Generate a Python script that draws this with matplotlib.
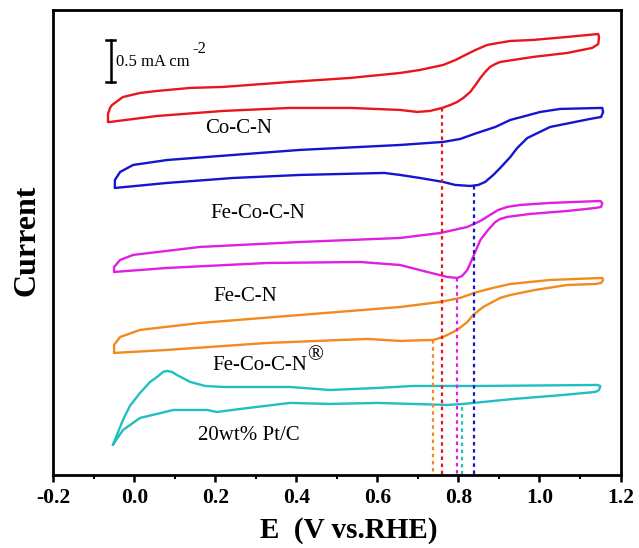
import matplotlib

matplotlib.use("Agg")
import matplotlib.pyplot as plt
from matplotlib.ticker import MultipleLocator, FormatStrFormatter

plt.rcParams["font.family"] = ["Liberation Serif", "DejaVu Serif"]
plt.rcParams["axes.unicode_minus"] = False

# CV loops, offset for stacking (E in V vs RHE, current in mA cm^-2)
e_co = [-0.065, -0.065, -0.060, -0.055, -0.048, -0.038, -0.028, 0.014, 0.056, 0.138, 0.219,
        0.384, 0.533, 0.656, 0.705, 0.762, 0.793, 0.817, 0.842, 0.871, 0.898, 0.928, 0.984,
        1.068, 1.145, 1.147, 1.145, 1.130,
        1.068, 0.984, 0.903, 0.891, 0.878, 0.866, 0.854, 0.842, 0.829, 0.812, 0.797, 0.780,
        0.760, 0.730, 0.698, 0.656, 0.533, 0.384, 0.219, 0.056, -0.060, -0.065]
j_co = [4.143, 4.238, 4.310, 4.345, 4.369, 4.405, 4.440, 4.488, 4.512, 4.548, 4.560,
        4.619, 4.667, 4.726, 4.762, 4.821, 4.881, 4.940, 5.000, 5.060, 5.083, 5.107, 5.119,
        5.155, 5.190, 5.155, 5.071, 5.024,
        4.964, 4.917, 4.857, 4.833, 4.798, 4.738, 4.667, 4.583, 4.500, 4.429, 4.381, 4.345,
        4.310, 4.274, 4.262, 4.286, 4.310, 4.310, 4.274, 4.214, 4.143, 4.143]

e_feco = [-0.048, -0.048, -0.035, -0.003, 0.081, 0.244, 0.409, 0.656, 0.762, 0.804, 0.846,
          0.891, 0.928, 0.965, 1.002, 1.051, 1.155, 1.157, 1.152, 1.125,
          1.063, 1.026, 0.970, 0.945, 0.928, 0.903, 0.886, 0.866, 0.849, 0.829, 0.792, 0.762,
          0.705, 0.656, 0.617, 0.409, 0.244, 0.081, -0.048]
j_feco = [3.357, 3.452, 3.548, 3.631, 3.690, 3.750, 3.810, 3.869, 3.905, 3.940, 4.012,
          4.083, 4.167, 4.214, 4.262, 4.298, 4.310, 4.262, 4.202, 4.179,
          4.119, 4.083, 3.952, 3.833, 3.726, 3.595, 3.512, 3.429, 3.393, 3.381, 3.393, 3.429,
          3.476, 3.512, 3.536, 3.512, 3.476, 3.417, 3.357]

e_fe = [-0.050, -0.050, -0.035, -0.003, 0.162, 0.409, 0.656, 0.755, 0.822, 0.854, 0.878, 0.898,
        0.920, 0.953, 1.026, 1.150, 1.155, 1.152, 1.138,
        1.068, 0.977, 0.920, 0.903, 0.891, 0.873, 0.854, 0.836, 0.822, 0.809, 0.797, 0.772,
        0.723, 0.656, 0.557, 0.328, 0.081, -0.050]
j_fe = [2.357, 2.417, 2.500, 2.560, 2.655, 2.714, 2.762, 2.821, 2.893, 2.964, 3.036, 3.095,
        3.131, 3.155, 3.179, 3.202, 3.179, 3.131, 3.119,
        3.083, 3.048, 3.012, 2.988, 2.952, 2.857, 2.738, 2.536, 2.381, 2.310, 2.286, 2.298,
        2.357, 2.440, 2.476, 2.464, 2.405, 2.357]

e_fecor = [-0.050, -0.050, -0.035, 0.014, 0.162, 0.409, 0.656, 0.755, 0.804, 0.846, 0.885,
           0.928, 1.026, 1.155, 1.157, 1.152, 1.138,
           1.068, 0.989, 0.928, 0.903, 0.861, 0.836, 0.822, 0.797, 0.762, 0.738, 0.656, 0.575,
           0.328, 0.081, -0.050]
j_fecor = [1.393, 1.488, 1.583, 1.667, 1.750, 1.845, 1.940, 2.000, 2.048, 2.119, 2.167,
           2.214, 2.262, 2.286, 2.262, 2.226, 2.214,
           2.202, 2.143, 2.083, 2.048, 1.940, 1.845, 1.762, 1.667, 1.583, 1.548, 1.536, 1.560,
           1.512, 1.429, 1.393]

e_pt = [-0.053, -0.040, -0.028, -0.011, 0.014, 0.039, 0.056, 0.071, 0.081, 0.093, 0.105, 0.138,
        0.175, 0.219, 0.384, 0.483, 0.599, 0.688, 0.854, 1.143, 1.150, 1.147, 1.138,
        1.059, 0.935, 0.812, 0.772, 0.688, 0.599, 0.483, 0.384, 0.261, 0.204, 0.180, 0.096,
        0.014, -0.028, -0.053]
j_pt = [0.298, 0.452, 0.595, 0.762, 0.917, 1.048, 1.107, 1.167, 1.179, 1.167, 1.131, 1.048,
        1.000, 0.988, 0.988, 0.952, 0.976, 1.000, 1.000, 1.012, 1.000, 0.952, 0.929,
        0.893, 0.845, 0.786, 0.774, 0.786, 0.798, 0.786, 0.798, 0.726, 0.690, 0.714, 0.714,
        0.619, 0.476, 0.298]

labels = ["Co-C-N", "Fe-Co-C-N", "Fe-C-N", "Fe-Co-C-N", "20wt% Pt/C"]
colors = ["#e8161c", "#1515cf", "#e01fe0", "#f28a1e", "#22bfc2"]
label_e = [0.175, 0.187, 0.194, 0.192, 0.157]
label_j = [4.07, 3.05, 2.07, 1.24, 0.405]

# dotted markers (potential, current where the line starts)
mark_e = [0.759, 0.839, 0.797, 0.737, 0.809]
mark_j = [4.310, 3.381, 2.286, 1.548, 0.750]

curves = [(e_co, j_co), (e_feco, j_feco), (e_fe, j_fe), (e_fecor, j_fecor), (e_pt, j_pt)]
y_lo, y_hi = -0.06, 5.476

fig = plt.figure(figsize=(6.39, 5.48), dpi=100)
ax = fig.add_axes([0.0834, 0.1332, 0.8877, 0.8486])

for (e, j), c in zip(curves, colors):
    ax.plot(e, j, color=c, lw=1.7, solid_joinstyle="round", solid_capstyle="round")

for x, top, c in zip(mark_e, mark_j, colors):
    ax.plot([x, x], [top, y_lo], color=c, lw=1.6, linestyle=(0, (1.6, 1.6)))

for t, x, y in zip(labels, label_e, label_j):
    ax.text(x, y, t, fontsize=15, ha="left", va="center")
ax.text(0.447, 1.357, "\u00ae", fontsize=15, ha="center", va="center")

# scale bar
sb_x, sb_lo, sb_hi = -0.058, 4.619, 5.119
ax.plot([sb_x, sb_x], [sb_lo, sb_hi], color="black", lw=1.8)
ax.plot([sb_x - 0.011, sb_x + 0.011], [sb_lo, sb_lo], color="black", lw=1.8)
ax.plot([sb_x - 0.011, sb_x + 0.011], [sb_hi, sb_hi], color="black", lw=1.8)
ax.text(-0.045, 4.857, "0.5 mA cm", fontsize=12, ha="left", va="center")
ax.text(0.143, 5.01, "-2", fontsize=12, ha="left", va="center")

ax.set_xlim(-0.2, 1.2)
ax.set_ylim(y_lo, y_hi)
ax.xaxis.set_major_locator(MultipleLocator(0.2))
ax.xaxis.set_minor_locator(MultipleLocator(0.1))
ax.xaxis.set_major_formatter(FormatStrFormatter("%.1f"))
ax.set_yticks([])
ax.tick_params(axis="x", which="major", direction="out", length=5, width=1.8, pad=4,
               labelsize=15.5, top=False)
ax.tick_params(axis="x", which="minor", direction="out", length=3, width=1.5, top=False)
for lab in ax.get_xticklabels():
    lab.set_fontweight("bold")
for s in ax.spines.values():
    s.set_linewidth(2.0)

fig.text(0.546, 1 - 530 / 548, "E  (V vs.RHE)", fontsize=21, fontweight="bold",
         ha="center", va="center")
fig.text(0.042, 1 - 240 / 548, "Current", fontsize=23, fontweight="bold",
         rotation=90, ha="center", va="center")

fig.savefig("out.png", dpi=100, facecolor="white")
